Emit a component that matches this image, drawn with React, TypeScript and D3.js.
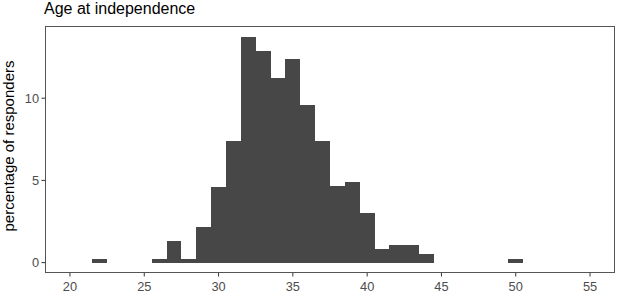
import * as d3 from 'd3';

// histogram of age at independence (bin width 1, centred on integers)
const AGES = [22, 26, 27, 28, 29, 30, 31, 32, 33, 34, 35, 36, 37, 38, 39, 40, 41, 42, 43, 44, 50];
const PERCENTS = [0.23, 0.23, 1.34, 0.23, 2.15, 4.62, 7.42, 13.74, 12.89, 11.25, 12.36, 9.59, 7.42, 4.66, 4.92, 3.0, 0.81, 1.06, 1.06, 0.51, 0.23];
const X_TICKS = [20, 25, 30, 35, 40, 45, 50, 55];
const Y_TICKS = [0, 5, 10];

const W = 617;
const H = 294;
const MARGIN = { TOP: 26, RIGHT: 2, BOTTOM: 21, LEFT: 45 };
const FONT = 'Liberation Sans, Arial, sans-serif';
const BAR = '#474747';
const TEXT = '#4D4D4D';

const App = () => {
  const x = d3
    .scaleLinear()
    .domain([18.32, 56.68])
    .range([MARGIN.LEFT, W - MARGIN.RIGHT]);
  const y = d3
    .scaleLinear()
    .domain([-0.63, 14.39])
    .range([H - MARGIN.BOTTOM, MARGIN.TOP]);

  const bins = AGES.map((a, i) => ({ age: a, pct: PERCENTS[i] }));
  const left = MARGIN.LEFT;
  const bottom = H - MARGIN.BOTTOM;

  return (
    <svg
      width={W}
      height={H}
      style={{ position: 'absolute', left: 0, top: 0 }}
      fontFamily={FONT}
    >
      <rect width={W} height={H} fill="#fff" />
      <text x={44} y={14} fontSize={16} fill="#000">
        Age at independence
      </text>

      <g shapeRendering="crispEdges">
        {bins.map((d) => (
          <rect
            key={d.age}
            x={x(d.age - 0.5)}
            width={x(d.age + 0.5) - x(d.age - 0.5)}
            y={y(d.pct)}
            height={y(0) - y(d.pct)}
            fill={BAR}
          />
        ))}
      </g>

      <rect
        x={left + 0.5}
        y={MARGIN.TOP + 0.5}
        width={W - MARGIN.RIGHT - left - 1}
        height={bottom - MARGIN.TOP - 1}
        fill="none"
        stroke="#555"
        strokeWidth={1}
      />

      {Y_TICKS.map((t) => (
        <g key={t}>
          <line x1={left - 3.5} x2={left} y1={y(t)} y2={y(t)} stroke="#333" strokeWidth={1} />
          <text
            x={left - 6}
            y={y(t)}
            dy="0.36em"
            textAnchor="end"
            fontSize={12.8}
            fill={TEXT}
          >
            {t}
          </text>
        </g>
      ))}

      {X_TICKS.map((t) => (
        <g key={t}>
          <line x1={x(t)} x2={x(t)} y1={bottom} y2={bottom + 3.5} stroke="#333" strokeWidth={1} />
          <text x={x(t)} y={bottom + 17.5} textAnchor="middle" fontSize={12.8} fill={TEXT}>
            {t}
          </text>
        </g>
      ))}

      <text
        transform={`translate(13.5, 146) rotate(-90)`}
        textAnchor="middle"
        fontSize={15}
        fill="#000"
      >
        percentage of responders
      </text>
    </svg>
  );
};

export default App;
